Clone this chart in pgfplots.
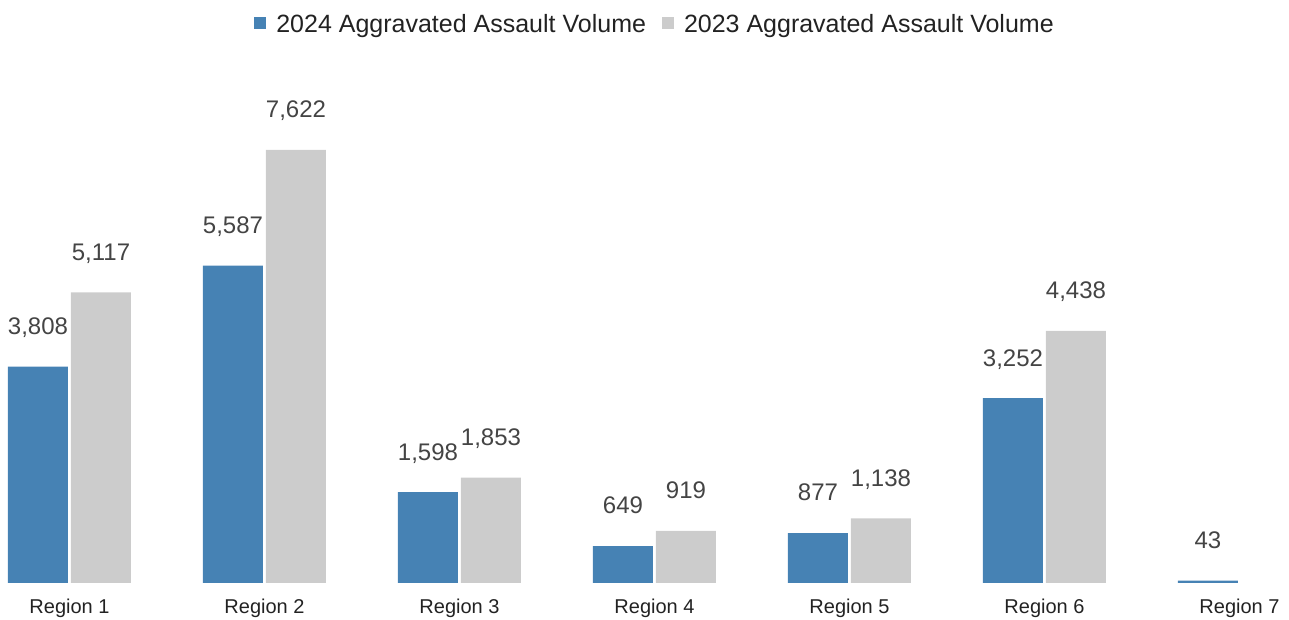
\documentclass[border=0pt]{standalone}
\usepackage{fontspec}
\setmainfont{Liberation Sans}
\usepackage{pgfplots}
\pgfplotsset{compat=1.18}
\definecolor{blue24}{HTML}{4682B4}
\definecolor{gray23}{HTML}{CCCCCC}
\definecolor{lbl}{HTML}{444444}
\definecolor{txt}{HTML}{222222}

\begin{document}
\begin{tikzpicture}
\useasboundingbox (0bp,0bp) rectangle (1289bp,620bp);
\begin{axis}[
    at={(0bp,37bp)}, anchor=south west,
    scale only axis, width=1289bp, height=583bp,
    ybar=3bp, bar width=60bp,
    xmin=-0.35641, xmax=6.25385,
    ymin=0, ymax=10262,
    clip=false,
    axis line style={draw=none},
    ytick=\empty,
    xtick={0,...,6},
    xticklabels={Region 1,Region 2,Region 3,Region 4,Region 5,Region 6,Region 7},
    xtick pos=bottom,
    major tick length=0pt,
    xticklabel style={font=\fontsize{20bp}{24bp}\selectfont, text=txt,
        inner sep=0pt, anchor=north, text height=14.3bp, yshift=-16bp},
    nodes near coords,
    /pgf/number format/assume math mode=true,
    /pgf/number format/1000 sep={,},
    every node near coord/.append style={font=\fontsize{24bp}{28bp}\selectfont,
        text=lbl, inner sep=0pt, text depth=0pt, anchor=south, yshift=32bp},
    legend columns=2,
    legend style={at={(0.5074,0.9588)}, anchor=center, draw=none, fill=none,
        font=\fontsize{25bp}{29bp}\selectfont, text=txt,
        nodes={inner sep=0pt},
        cells={anchor=base west},
        /tikz/every odd column/.append style={column sep=10bp},
        /tikz/every even column/.append style={column sep=16bp}},
    legend image code/.code={\fill[#1] (0bp,3bp) rectangle (12bp,15bp);},
]
\addplot[fill=blue24, draw=none] coordinates {
    (0,3808) (1,5587) (2,1598) (3,649) (4,877) (5,3252) (6,43)};
\addplot[fill=gray23, draw=none] coordinates {
    (0,5117) (1,7622) (2,1853) (3,919) (4,1138) (5,4438)};
\legend{2024 Aggravated Assault Volume, 2023 Aggravated Assault Volume}
\end{axis}
\end{tikzpicture}
\end{document}
